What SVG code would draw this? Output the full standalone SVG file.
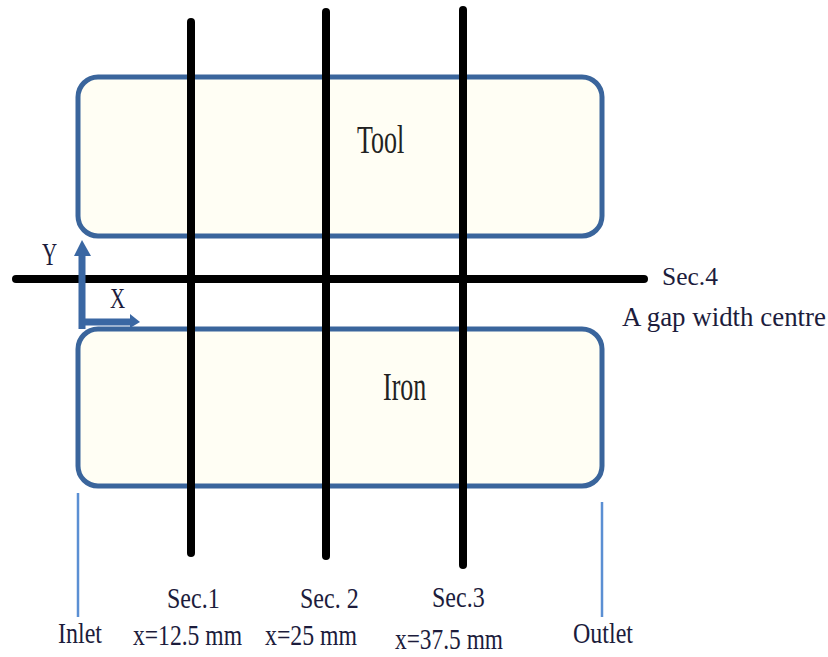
<svg xmlns="http://www.w3.org/2000/svg" width="828" height="657" viewBox="0 0 828 657">
<style>
.plate{fill:#fffef4;stroke:#3a659c;stroke-width:5}
.sec{stroke:#000;stroke-width:8;stroke-linecap:round;fill:none}
.axis{stroke:#3a67a3;stroke-width:7;fill:none}
.port{stroke:#5b8fd3;stroke-width:2.5}
.lbl{font-family:"Liberation Serif","Times New Roman",serif;fill:#1c1c3c}
.mat{font-family:"Liberation Serif","Times New Roman",serif;fill:#222;font-size:26px}
</style>
<rect width="828" height="657" fill="#fff"/>
<g id="tool"><rect class="plate" x="78" y="77" width="524" height="159" rx="20"/>
<text class="mat" transform="translate(357,153) scale(1,1.55)">Tool</text></g>
<g id="iron"><rect class="plate" x="78" y="329" width="524" height="157" rx="20"/>
<text class="mat" transform="translate(383,400) scale(1,1.55)">Iron</text></g>
<g id="connectors">
<line class="sec" x1="191" y1="22" x2="191" y2="553"/>
<line class="sec" x1="326" y1="12" x2="326" y2="556"/>
<line class="sec" x1="463" y1="10" x2="463" y2="565"/>
<line class="sec" x1="16" y1="279" x2="644" y2="279"/>
<line class="port" x1="78" y1="493" x2="78" y2="617"/>
<line class="port" x1="602" y1="502" x2="602" y2="617"/>
<path class="axis" d="M82,329 V252 M82,322 H132"/>
<polygon fill="#3a67a3" points="74,256 82,240 91,256"/>
<polygon fill="#3a67a3" points="130,314 140,322 130,328"/>
</g>
<g id="labels">
<text class="lbl" font-size="21" transform="translate(42,265) scale(1,1.5)">Y</text>
<text class="lbl" font-size="21" transform="translate(110,308) scale(1,1.4)">X</text>
<text class="lbl" font-size="26" x="662" y="285" textLength="56" lengthAdjust="spacingAndGlyphs">Sec.4</text>
<text class="lbl" font-size="27" x="622" y="326" textLength="204" lengthAdjust="spacingAndGlyphs">A gap width centre</text>
<g font-size="24">
<text class="lbl" transform="translate(167,608) scale(1,1.2)">Sec.1</text>
<text class="lbl" transform="translate(133,645) scale(1,1.2)" textLength="109" lengthAdjust="spacingAndGlyphs">x=12.5 mm</text>
<text class="lbl" transform="translate(300,608) scale(1,1.2)">Sec. 2</text>
<text class="lbl" transform="translate(265,645) scale(1,1.2)" textLength="92" lengthAdjust="spacingAndGlyphs">x=25 mm</text>
<text class="lbl" transform="translate(432,607) scale(1,1.2)">Sec.3</text>
<text class="lbl" transform="translate(395,649) scale(1,1.2)" textLength="108" lengthAdjust="spacingAndGlyphs">x=37.5 mm</text>
<text class="lbl" transform="translate(58,643) scale(1,1.2)">Inlet</text>
<text class="lbl" transform="translate(573,643) scale(1,1.2)">Outlet</text>
</g>
</g>
</svg>
